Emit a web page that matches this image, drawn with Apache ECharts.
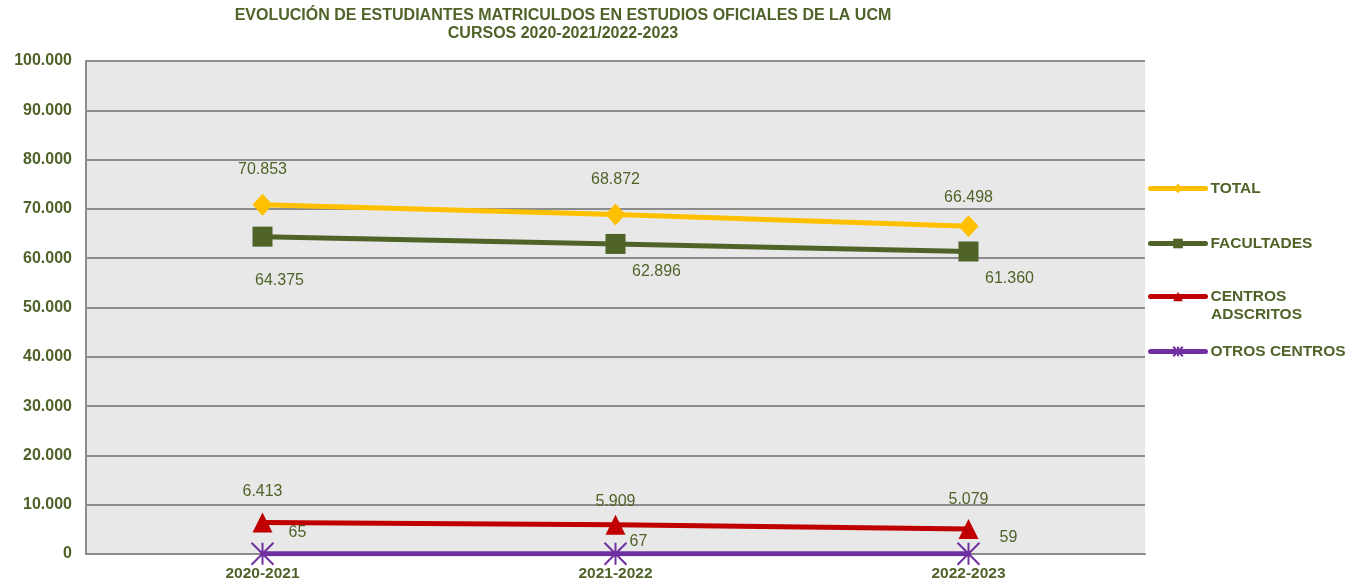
<!DOCTYPE html>
<html>
<head>
<meta charset="utf-8">
<script src="https://cdn.jsdelivr.net/npm/echarts@6/dist/echarts.min.js"></script>
<style>html,body{margin:0;padding:0;background:#fff}#c{width:1355px;height:585px}</style>
</head>
<body>
<div id="c"></div>
<script>
const categories = ['2020-2021', '2021-2022', '2022-2023'];
const total = [70853, 68872, 66498];
const facultades = [64375, 62896, 61360];
const centrosAdscritos = [6413, 5909, 5079];
const otrosCentros = [65, 67, 59];
const seriesNames = ['TOTAL', 'FACULTADES', 'CENTROS ADSCRITOS', 'OTROS CENTROS'];
const yTicks = { min: 0, max: 100000, interval: 10000 };

const GREEN = '#4F6228';
const COLORS = ['#FFC000', GREEN, '#C00000', '#7030A0'];
function fmt(v) { return String(Math.round(v)).replace(/\B(?=(\d{3})+(?!\d))/g, '.'); }

// per-point label offsets (style only)
const offTotal = [[0, -35], [0, -35], [0, -29]];
const offFac = [[17, 44], [41, 28], [41, 27]];
const offCen = [[0, -31], [0, -23], [0, -29]];
const offOtr = [[35, -21], [23, -12], [40, -16]];

function mkData(vals, offs) {
  return vals.map((v, i) => ({ value: v, label: { offset: offs[i] } }));
}
const labelBase = { show: true, position: 'inside', color: GREEN, fontSize: 16, fontFamily: 'Liberation Sans, Arial, sans-serif', formatter: p => fmt(p.value) };

const chart = echarts.init(document.getElementById('c'));
function mkLegend(i, top, extra) {
  return Object.assign({
    orient: 'vertical', left: 1148, top: top, padding: 0, itemWidth: 55, itemHeight: 12, itemGap: 5, selectedMode: false,
    data: [seriesNames[i]],
    lineStyle: { width: 5, color: COLORS[i], cap: 'round' },
    textStyle: { color: GREEN, fontWeight: 'bold', fontSize: 15.5, fontFamily: 'Liberation Sans, Arial, sans-serif', lineHeight: 19 }
  }, extra || {});
}
chart.setOption({
  animation: false,
  backgroundColor: '#ffffff',
  graphic: [
    { type: 'text', style: { x: 563, y: 16, text: 'EVOLUCIÓN DE ESTUDIANTES MATRICULDOS EN ESTUDIOS OFICIALES DE LA UCM', fill: GREEN, font: 'bold 16px "Liberation Sans", Arial, sans-serif', textAlign: 'center', textVerticalAlign: 'middle' } },
    { type: 'text', style: { x: 563, y: 34, text: 'CURSOS 2020-2021/2022-2023', fill: GREEN, font: 'bold 16px "Liberation Sans", Arial, sans-serif', textAlign: 'center', textVerticalAlign: 'middle' } },
    { type: 'text', style: { x: 1211, y: 315, text: 'ADSCRITOS', fill: GREEN, font: 'bold 15.5px "Liberation Sans", Arial, sans-serif', textAlign: 'left', textVerticalAlign: 'middle' } }
  ],
  legend: [
    mkLegend(0, 179),
    mkLegend(1, 234),
    mkLegend(2, 287, { formatter: () => 'CENTROS' }),
    mkLegend(3, 342)
  ],
  grid: { left: 86, right: 210, top: 61, bottom: 31, show: true, backgroundColor: '#e8e8e8', borderWidth: 0, containLabel: false },
  xAxis: {
    type: 'category', data: categories, boundaryGap: true,
    axisLine: { show: true, lineStyle: { color: '#8c8c8c', width: 2 } },
    axisTick: { show: false },
    axisLabel: { color: GREEN, fontWeight: 'bold', fontSize: 15.5, fontFamily: 'Liberation Sans, Arial, sans-serif', margin: 12 }
  },
  yAxis: {
    type: 'value', min: yTicks.min, max: yTicks.max, interval: yTicks.interval,
    axisLine: { show: true, lineStyle: { color: '#8c8c8c', width: 2 } },
    axisTick: { show: false },
    splitLine: { show: true, lineStyle: { color: '#8c8c8c', width: 2 } },
    axisLabel: { color: GREEN, fontWeight: 'bold', fontSize: 16, fontFamily: 'Liberation Sans, Arial, sans-serif', margin: 14, formatter: v => fmt(v) }
  },
  series: [
    { name: seriesNames[0], type: 'line', data: mkData(total, offTotal), symbol: 'diamond', symbolSize: [20, 22],
      itemStyle: { color: COLORS[0] }, lineStyle: { color: COLORS[0], width: 5, cap: 'round' }, label: labelBase, z: 4 },
    { name: seriesNames[1], type: 'line', data: mkData(facultades, offFac), symbol: 'rect', symbolSize: 20,
      itemStyle: { color: COLORS[1] }, lineStyle: { color: COLORS[1], width: 5, cap: 'round' }, label: labelBase, z: 3 },
    { name: seriesNames[2], type: 'line', data: mkData(centrosAdscritos, offCen), symbol: 'triangle', symbolSize: 20,
      itemStyle: { color: COLORS[2] }, lineStyle: { color: COLORS[2], width: 5, cap: 'round' }, label: labelBase, z: 3 },
    { name: seriesNames[3], type: 'line', data: mkData(otrosCentros, offOtr), symbol: 'path://M0,0L10,10M10,0L0,10M5,0L5,10', symbolSize: 22,
      itemStyle: { color: 'rgba(0,0,0,0)', borderColor: COLORS[3], borderWidth: 2 }, lineStyle: { color: COLORS[3], width: 5, cap: 'round' }, label: labelBase, z: 5 }
  ]
});
</script>
</body>
</html>
